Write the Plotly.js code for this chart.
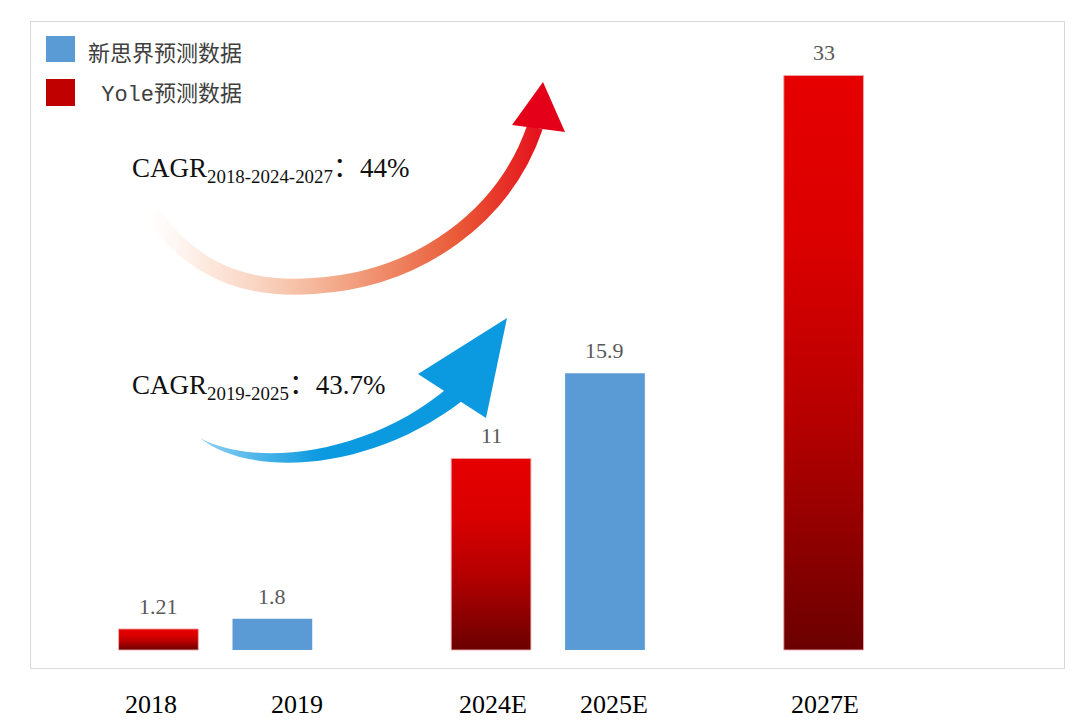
<!DOCTYPE html>
<html>
<head>
<meta charset="utf-8">
<script src="https://cdn.plot.ly/plotly-3.0.1.min.js"></script>
<style>html,body{margin:0;padding:0;background:#fff;}#chart{width:1080px;height:728px;}</style>
</head>
<body>
<div id="chart"></div>
<script>
// ---- data ----
const years = ['2018', '2019', '2024E', '2025E', '2027E'];
const groupIdx = [0, 0, 1, 1, 2];     // period group of each year
const inGroupIdx = [0, 1, 0, 1, 0];   // order inside the group
const source = ['yole', 'xsj', 'yole', 'xsj', 'yole'];
const values = [1.21, 1.8, 11, 15.9, 33];
const valueLabels = ['1.21', '1.8', '11', '15.9', '33'];
const seriesNames = {xsj: '新思界预测数据', yole: ' Yole预测数据'};
const cagrTexts = ['CAGR<sub>2018-2024-2027</sub>：44%', 'CAGR<sub>2019-2025</sub>：43.7%'];

// ---- layout helpers ----
const GROUP_STEP = 2.92;
const xPos = years.map((y, i) => groupIdx[i] * GROUP_STEP + inGroupIdx[i]);
const tickLabelShift = [-7, 25, 2, 9, 1];   // pixel nudges of the year labels, as in the original
const L = 31, T = 22, W = 1033, H = 646;
const px = x => (x - L) / W;
const py = y => 1 - (y - T) / H;

function pick(key) {
  const xs = [], ys = [];
  years.forEach((y, i) => { if (source[i] === key) { xs.push(xPos[i]); ys.push(values[i]); } });
  return {x: xs, y: ys};
}
const xsj = pick('xsj'), yole = pick('yole');

const traces = [
  {type: 'bar', name: seriesNames.xsj, x: xsj.x, y: xsj.y, width: 0.7,
   marker: {color: '#5b9bd5', line: {width: 0}}, hoverinfo: 'skip'},
  {type: 'bar', name: seriesNames.yole, x: yole.x, y: yole.y, width: 0.7,
   marker: {color: '#d00000', line: {color: 'rgba(240,170,170,0.9)', width: 1}}, hoverinfo: 'skip'}
];

const annotations = values.map((v, i) => ({
  x: xPos[i], y: v, xref: 'x', yref: 'y', text: valueLabels[i], showarrow: false,
  yanchor: 'bottom', yshift: 8,
  font: {family: 'Liberation Serif, serif', size: 22, color: '#595959'}
}));

// year labels under the frame
years.forEach((yr, i) => annotations.push({
  x: xPos[i], y: 0, xref: 'x', yref: 'paper', text: yr, showarrow: false,
  xanchor: 'center', yanchor: 'middle', xshift: tickLabelShift[i], yshift: -36,
  font: {family: 'Liberation Serif, serif', size: 26, color: '#000'}
}));

// legend text
annotations.push({x: px(86), y: py(55), xref: 'paper', yref: 'paper', xanchor: 'left', yanchor: 'middle',
  text: seriesNames.xsj, showarrow: false,
  font: {family: 'Liberation Mono, Noto Sans CJK SC, sans-serif', size: 22, color: '#404040'}});
annotations.push({x: px(86), y: py(95), xref: 'paper', yref: 'paper', xanchor: 'left', yanchor: 'middle',
  text: seriesNames.yole, showarrow: false,
  font: {family: 'Liberation Mono, Noto Sans CJK SC, sans-serif', size: 22, color: '#404040'}});
// CAGR texts
annotations.push({x: px(130), y: py(170), xref: 'paper', yref: 'paper', xanchor: 'left', yanchor: 'middle',
  text: cagrTexts[0], showarrow: false,
  font: {family: 'Liberation Serif, Noto Sans CJK SC, serif', size: 27, color: '#111'}});
annotations.push({x: px(130), y: py(387), xref: 'paper', yref: 'paper', xanchor: 'left', yanchor: 'middle',
  text: cagrTexts[1], showarrow: false,
  font: {family: 'Liberation Serif, Noto Sans CJK SC, serif', size: 27, color: '#111'}});

const shapes = [
  {type: 'rect', xref: 'paper', yref: 'paper', x0: px(46), x1: px(75), y0: py(36), y1: py(62),
   fillcolor: '#5b9bd5', line: {width: 0}},
  {type: 'rect', xref: 'paper', yref: 'paper', x0: px(46), x1: px(75), y0: py(79), y1: py(106),
   fillcolor: '#c00000', line: {width: 0}}
];

// decorative arrows (SVG in plot-area pixel coordinates)
const arrowSvg = `<svg xmlns="http://www.w3.org/2000/svg" width="${W}" height="${H}" viewBox="${L} ${T} ${W} ${H}" preserveAspectRatio="none">
<defs>
<linearGradient id="og" gradientUnits="userSpaceOnUse" x1="150" y1="0" x2="560" y2="0">
<stop offset="0" stop-color="#fde6da" stop-opacity="0"/>
<stop offset="0.15" stop-color="#fbdccb" stop-opacity="0.7"/>
<stop offset="0.45" stop-color="#f3ab8b"/>
<stop offset="0.75" stop-color="#e95a37"/>
<stop offset="1" stop-color="#e30016"/>
</linearGradient>
<linearGradient id="bg" gradientUnits="userSpaceOnUse" x1="200" y1="0" x2="320" y2="0">
<stop offset="0" stop-color="#8fd0f2"/>
<stop offset="1" stop-color="#0b99e0"/>
</linearGradient>
</defs>
<path d="M153,215 C200,280 260,290 313,286 C420,280 505,215 535,127" fill="none" stroke="url(#og)" stroke-width="16"/>
<polygon points="543,82 512,125 565,132" fill="#e5001a"/>
<path d="M200,438 C250,478 370,472 462,401 L450,386 C370,455 255,468 200,438 Z" fill="url(#bg)"/>
<polygon points="507,318 418,374 486,418" fill="#0b99e0"/>
</svg>`;

const layout = {
  width: 1080, height: 728,
  margin: {l: L, r: 1080 - L - W, t: T, b: 728 - T - H, pad: 0},
  paper_bgcolor: '#ffffff', plot_bgcolor: '#ffffff',
  showlegend: false,
  barmode: 'overlay',
  xaxis: {range: [-1.119, 7.95], tickvals: xPos, ticktext: years, showticklabels: false,
          showgrid: false, zeroline: false,
          showline: true, mirror: true, linecolor: '#d9d9d9', linewidth: 1, ticks: '', fixedrange: true},
  yaxis: {range: [-1.034, 36.07], showgrid: false, zeroline: false, showticklabels: false,
          showline: true, mirror: true, linecolor: '#d9d9d9', linewidth: 1, ticks: '', fixedrange: true},
  annotations: annotations,
  shapes: shapes,
  images: [{source: 'data:image/svg+xml;charset=utf-8,' + encodeURIComponent(arrowSvg),
            xref: 'paper', yref: 'paper', x: 0, y: 1, sizex: 1, sizey: 1,
            xanchor: 'left', yanchor: 'top', sizing: 'stretch', layer: 'above'}]
};

function applyGradient(gd) {
  const svg = gd.querySelector('svg.main-svg');
  if (!svg) return;
  let defs = svg.querySelector('defs');
  if (!defs) { defs = document.createElementNS('http://www.w3.org/2000/svg', 'defs'); svg.insertBefore(defs, svg.firstChild); }
  if (!svg.querySelector('#redBarGrad')) {
    const g = document.createElementNS('http://www.w3.org/2000/svg', 'linearGradient');
    g.setAttribute('id', 'redBarGrad');
    g.setAttribute('x1', '0'); g.setAttribute('y1', '0'); g.setAttribute('x2', '0'); g.setAttribute('y2', '1');
    [['0', '#e60000'], ['0.3', '#da0000'], ['0.6', '#b60000'], ['1', '#6b0000']].forEach(s => {
      const st = document.createElementNS('http://www.w3.org/2000/svg', 'stop');
      st.setAttribute('offset', s[0]); st.setAttribute('stop-color', s[1]);
      g.appendChild(st);
    });
    defs.appendChild(g);
  }
  const bars = gd.querySelectorAll('.barlayer .trace.bars');
  if (bars.length > 1) {
    bars[1].querySelectorAll('path').forEach(p => { p.style.fill = 'url(#redBarGrad)'; });
  }
}

const gd = document.getElementById('chart');
Plotly.newPlot(gd, traces, layout, {staticPlot: true, displayModeBar: false}).then(() => {
  applyGradient(gd);
  gd.on && gd.on('plotly_afterplot', () => applyGradient(gd));
});
</script>
</body>
</html>
